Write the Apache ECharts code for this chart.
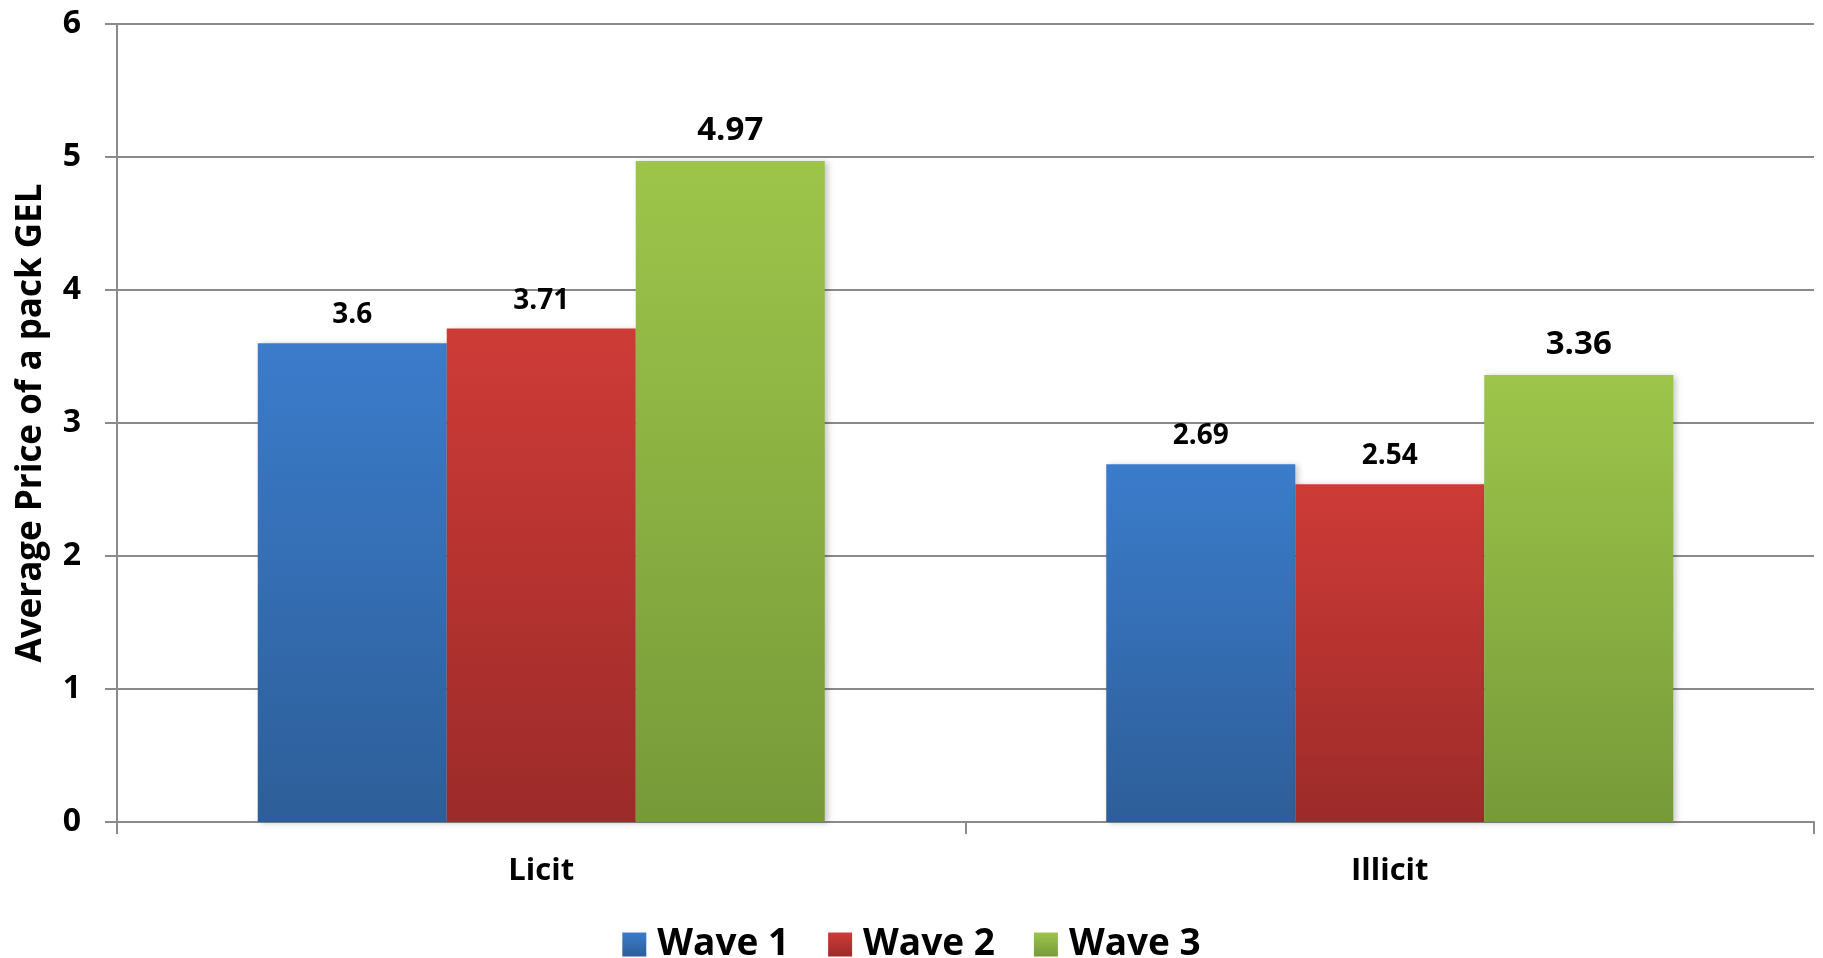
<!DOCTYPE html>
<html>
<head>
<meta charset="utf-8">
<script src="https://cdn.jsdelivr.net/npm/echarts@6/dist/echarts.min.js"></script>
<style>
  html, body { margin: 0; padding: 0; background: #fff; }
  #chart { width: 1823px; height: 958px; }
</style>
</head>
<body>
<div id="chart"></div>
<script>
// Average price of a cigarette pack (GEL), by market and survey wave
const categories = ['Licit', 'Illicit'];
const wave1 = [3.6, 2.69];
const wave2 = [3.71, 2.54];
const wave3 = [4.97, 3.36];
const seriesNames = ['Wave 1', 'Wave 2', 'Wave 3'];
const yTicks = [0, 1, 2, 3, 4, 5, 6];

const FONT = '"Open Sans", "Liberation Sans", sans-serif';
const AXIS_GREY = '#8a8a8a';

function grad(top, bottom) {
  return new echarts.graphic.LinearGradient(0, 0, 0, 1, [
    { offset: 0, color: top },
    { offset: 1, color: bottom }
  ]);
}

const palette = [
  ['#3b7ccb', '#2d5e99'],
  ['#ce3b37', '#9c2b29'],
  ['#9dc54a', '#779a39']
];
const labelSizes = [28, 28, 33];

function makeSeries(name, values, idx) {
  return {
    name: name,
    type: 'bar',
    data: values,
    barWidth: 189,
    barGap: '0%',
    itemStyle: {
      color: grad(palette[idx][0], palette[idx][1]),
      shadowColor: 'rgba(0,0,0,0.22)',
      shadowBlur: 6,
      shadowOffsetX: 3,
      shadowOffsetY: 1
    },
    label: {
      show: true,
      position: 'top',
      distance: 14,
      color: '#000',
      fontFamily: FONT,
      fontWeight: 'bold',
      fontSize: labelSizes[idx]
    }
  };
}

const chart = echarts.init(document.getElementById('chart'), null, { renderer: 'canvas' });
chart.setOption({
  animation: false,
  backgroundColor: '#fff',
  grid: { left: 117, right: 9, top: 24, bottom: 136, containLabel: false },
  legend: {
    data: seriesNames.map((n, i) => ({ name: n, itemStyle: { color: grad(palette[i][0], palette[i][1]) } })),
    left: 'center',
    top: 921,
    icon: 'rect',
    itemWidth: 24,
    itemHeight: 24,
    itemGap: 39,
    textStyle: {
      fontFamily: FONT,
      fontWeight: 'bold',
      fontSize: 37,
      color: '#000',
      padding: [0, 0, 0, 6]
    }
  },
  xAxis: {
    type: 'category',
    data: categories,
    axisLine: { lineStyle: { color: AXIS_GREY, width: 2 } },
    axisTick: { show: true, alignWithLabel: false, length: 12, lineStyle: { color: AXIS_GREY, width: 2 } },
    axisLabel: {
      margin: 34,
      color: '#000',
      fontFamily: FONT,
      fontWeight: 'bold',
      fontSize: 31
    }
  },
  yAxis: {
    type: 'value',
    min: yTicks[0],
    max: yTicks[yTicks.length - 1],
    interval: 1,
    name: 'Average Price of a pack GEL',
    nameLocation: 'middle',
    nameGap: 68,
    nameTextStyle: {
      color: '#000',
      fontFamily: FONT,
      fontWeight: 'bold',
      fontSize: 35
    },
    axisLine: { show: true, lineStyle: { color: AXIS_GREY, width: 2 } },
    axisTick: { show: true, length: 12, lineStyle: { color: AXIS_GREY, width: 2 } },
    axisLabel: {
      margin: 36,
      color: '#000',
      fontFamily: FONT,
      fontWeight: 'bold',
      fontSize: 32
    },
    splitLine: { show: true, lineStyle: { color: AXIS_GREY, width: 2 } }
  },
  series: [
    makeSeries(seriesNames[0], wave1, 0),
    makeSeries(seriesNames[1], wave2, 1),
    makeSeries(seriesNames[2], wave3, 2)
  ]
});
</script>
</body>
</html>
